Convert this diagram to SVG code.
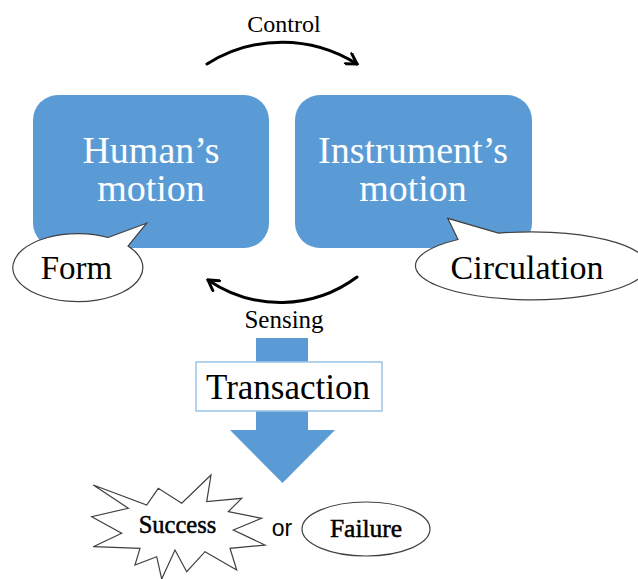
<svg xmlns="http://www.w3.org/2000/svg" width="638" height="579" viewBox="0 0 638 579">
  <style>
    .box { fill: #5B9BD5; }
    .boxText { font-family: "Liberation Serif", "DejaVu Serif", serif; font-size: 38px; fill: #FFFFFF; text-anchor: middle; }
    .label { font-family: "Liberation Serif", "DejaVu Serif", serif; fill: #000000; text-anchor: middle; }
    .heavy { stroke: #000000; stroke-width: 0.5; }
    .bubble { fill: #FFFFFF; stroke: #404040; stroke-width: 1.2; }
    .flow { fill: none; stroke: #000000; stroke-width: 3; stroke-linecap: round; }
  </style>
  <defs>
    <marker id="openArrow" markerUnits="userSpaceOnUse" viewBox="0 0 14 14" refX="12" refY="7" markerWidth="14" markerHeight="14" orient="auto">
      <path d="M2,1 L12,7 L2,13" fill="none" stroke="#000000" stroke-width="3" stroke-linecap="round" stroke-linejoin="miter"/>
    </marker>
  </defs>
  <rect width="638" height="579" fill="#FFFFFF"/>

  <!-- cycle connectors between the two motion nodes -->
  <g id="connectors">
    <path class="flow" d="M207,64 A140,140 0 0 1 357,64" marker-end="url(#openArrow)"/>
    <text class="label" x="284" y="32" font-size="24">Control</text>
    <path class="flow" d="M357,277 A128,128 0 0 1 208,280" marker-end="url(#openArrow)"/>
    <text class="label" x="284" y="328" font-size="25">Sensing</text>
  </g>

  <g id="human-motion">
    <rect class="box" x="33" y="95" width="236" height="153" rx="25" ry="25"/>
    <text class="boxText" x="151" y="163">Human’s</text>
    <text class="boxText" x="151" y="201">motion</text>
  </g>

  <g id="instrument-motion">
    <rect class="box" x="295" y="95" width="237" height="153" rx="25" ry="25"/>
    <text class="boxText" x="413" y="163">Instrument’s</text>
    <text class="boxText" x="413" y="201">motion</text>
  </g>

  <!-- speech bubble: Form -->
  <g id="form">
    <path class="bubble" d="M108,237.5 L146.5,223.3 L128,246 A65,34 0 1 1 108,237.5 Z"/>
    <text class="label" x="76.5" y="279" font-size="33">Form</text>
  </g>

  <!-- speech bubble: Circulation -->
  <g id="circulation">
    <path class="bubble" d="M458,239.5 L447.7,218.3 L498.6,233.2 A116,34 0 1 1 458,239.5 Z"/>
    <text class="label" x="527" y="279" font-size="34">Circulation</text>
  </g>

  <!-- downward block arrow with Transaction label -->
  <g id="transaction">
    <path class="box" d="M256,338 L308,338 L308,430 L335,430 L282.5,483 L230,430 L256,430 Z"/>
    <rect x="196" y="362" width="186" height="49" fill="#FFFFFF" stroke="#9DC3E6" stroke-width="1.5"/>
    <text class="label" x="288" y="399" font-size="35">Transaction</text>
  </g>

  <g id="success">
    <polygon class="bubble" points="93.3,485 146.7,505 158.3,488.3 181.7,503.3 211,475 206.7,501.7 241.7,498.3 228.3,511.7 261.7,518.3 233.3,530 265,545 230,548.3 236.7,570 205,551.7 186.7,571.7 175,550 161.7,579 156.7,556.7 135,565 140,548.3 93.3,546.7 121.7,533.3 91.7,516.7 128.3,508.3"/>
    <text class="label heavy" x="177.5" y="533" font-size="24.5">Success</text>
  </g>

  <text id="or" x="282" y="536" font-family="'Liberation Sans', Arial, sans-serif" font-size="23" text-anchor="middle" fill="#000000">or</text>

  <g id="failure">
    <ellipse class="bubble" cx="366" cy="529" rx="64" ry="27"/>
    <text class="label heavy" x="366" y="537" font-size="25.5">Failure</text>
  </g>
</svg>
